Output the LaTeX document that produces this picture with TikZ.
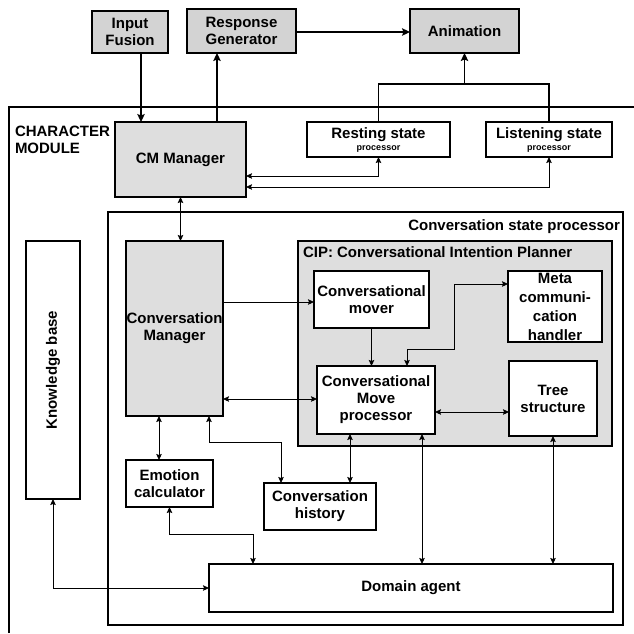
\documentclass[tikz,border=0pt]{standalone}
\usepackage{fontspec}
\setmainfont{Liberation Sans}
\usetikzlibrary{arrows.meta}
\definecolor{topgray}{RGB}{211,211,211}
\definecolor{boxgray}{RGB}{222,222,222}
\tikzset{
  ah/.tip={Stealth[length=6pt,width=5.5pt,inset=1pt]},
  bh/.tip={Stealth[length=8pt,width=7.5pt,inset=1.5pt]},
}
\begin{document}
\begin{tikzpicture}[x=1pt,y=-1pt,
  every node/.style={font=\fontsize{15}{17}\selectfont\bfseries, inner sep=0pt, outer sep=0pt},
  box/.style={draw, line width=1.2pt, align=center, fill=white},
  graybox/.style={box, fill=boxgray},
  topbox/.style={box, fill=topgray},
  conn/.style={line width=0.9pt},
  bigconn/.style={line width=1.2pt},
]
\useasboundingbox (0,0) rectangle (634,633);

% outer frame of the character module
\draw[line width=1.2pt] (9,633) -- (9,107) -- (634,107);
\node[anchor=north west, align=left] (charlabel) at (15,126) {CHARACTER\\MODULE};

% containers
\node[box, minimum width=515, minimum height=413] (csp) at (365.5,418.5) {};
\node[anchor=east] (csplabel) at (620,227) {Conversation state processor};
\node[graybox, minimum width=314, minimum height=205] (cip) at (455,343.5) {};
\node[anchor=west] (ciplabel) at (303,252) {CIP: Conversational Intention Planner};

% top row
\node[topbox, minimum width=76, minimum height=42] (inp) at (130,32) {Input\\Fusion};
\node[topbox, minimum width=109, minimum height=44] (resp) at (241.5,31) {Response\\Generator};
\node[topbox, minimum width=109, minimum height=44] (anim) at (464.5,31) {Animation};

% character module row
\node[graybox, minimum width=131, minimum height=75] (cmm) at (180.5,159.5) {CM Manager};
\node[box, minimum width=143, minimum height=35] (rest) at (378.5,139.5)
  {Resting state\\[-5pt]{\fontsize{9}{10}\selectfont processor}};
\node[box, minimum width=126, minimum height=35] (list) at (549,139.5)
  {Listening state\\[-5pt]{\fontsize{9}{10}\selectfont processor}};

% inner nodes
\node[box, minimum width=54, minimum height=258,
  label={[rotate=90]center:Knowledge base}] (kb) at (53,370) {};
\node[graybox, minimum width=97, minimum height=175] (conv) at (174.5,328.5) {Conversation\\Manager};
\node[box, minimum width=115, minimum height=57] (mover) at (371.5,299.5) {Conversational\\mover};
\node[box, minimum width=94, minimum height=71, font=\fontsize{15}{19}\selectfont\bfseries] (meta) at (555,306.5) {Meta\\communi-\\cation\\handler};
\node[box, minimum width=118, minimum height=68] (move) at (376,400) {Conversational\\Move\\processor};
\node[box, minimum width=88, minimum height=75] (tree) at (553,398.5) {Tree\\structure};
\node[box, minimum width=87, minimum height=47] (emo) at (169.5,483.5) {Emotion\\calculator};
\node[box, minimum width=112, minimum height=47] (hist) at (320,506.5) {Conversation\\history};
\node[box, minimum width=404, minimum height=48] (dom) at (411,588) {Domain agent};

% top connectors
\draw[bigconn, -bh] (141,0 |- inp.south) -- (141,0 |- cmm.north);
\draw[bigconn, -bh] (217,0 |- cmm.north) -- (217,0 |- resp.south);
\draw[bigconn, -bh] (resp.east |- 0,32) -- (anim.west |- 0,32);
\coordinate (split) at (464.5,84);
\draw[bigconn] (rest.north) |- (split) -| (list.north);
\draw[bigconn, -bh] (split) -- (anim.south);
\draw[conn, ah-ah] (cmm.east |- 0,176) -| (rest.south);
\draw[conn, ah-ah] (cmm.east |- 0,187) -| (list.south);
\draw[conn, ah-ah] (cmm.south) -- (cmm.south |- conv.north);

% inner connectors
\draw[conn, -ah] (conv.east |- 0,302) -- (mover.west |- 0,302);
\draw[conn, -ah] (mover.south) -- (mover.south |- move.north);
\draw[conn, ah-ah] (407,0 |- move.north) |- (454,349) |- (meta.west |- 0,284);
\draw[conn, ah-ah] (conv.east |- 0,399) -- (move.west |- 0,399);
\draw[conn, ah-ah] (move.east |- 0,412) -- (tree.west |- 0,412);
\draw[conn, ah-ah] (159,0 |- conv.south) -- (159,0 |- emo.north);
\draw[conn, ah-ah] (209,0 |- conv.south) -- (209,442) -| (281,0 |- hist.north);
\draw[conn, ah-ah] (350,0 |- move.south) -- (350,0 |- hist.north);
\draw[conn, ah-ah] (422,0 |- move.south) -- (422,0 |- dom.north);
\draw[conn, ah-ah] (tree.south) -- (tree.south |- dom.north);
\draw[conn, ah-ah] (emo.south) |- (253,534) -- (253,0 |- dom.north);
\draw[conn, ah-ah] (kb.south) |- (dom.west);
\end{tikzpicture}
\end{document}
